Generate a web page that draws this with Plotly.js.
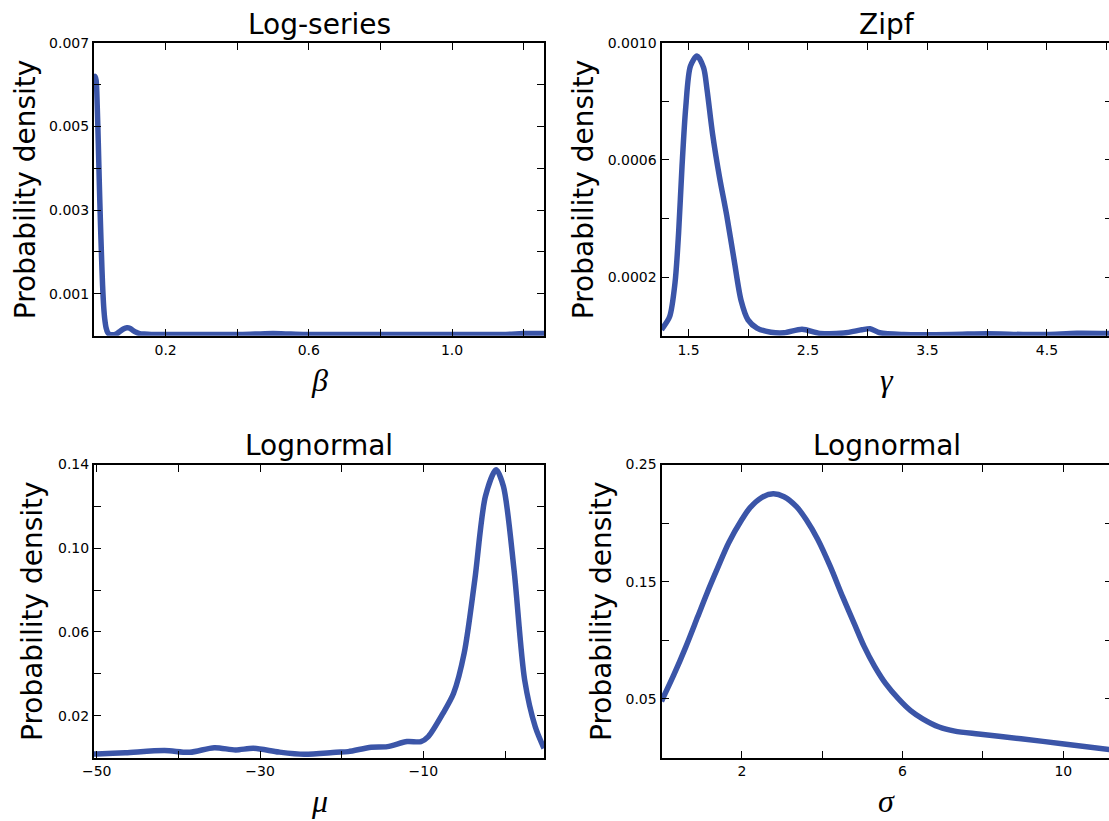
<!DOCTYPE html>
<html>
<head>
<meta charset="utf-8">
<script src="https://cdn.plot.ly/plotly-3.0.1.min.js"></script>
<style>
html,body{margin:0;padding:0;overflow:hidden;background:#fff;}
#chart{width:1112px;height:821px;}
</style>
</head>
<body>
<div id="chart"></div>
<script>
// ---------- data ----------
const panelTitles = ["Log-series", "Zipf", "Lognormal", "Lognormal"];
const xLabels = ["β", "γ", "μ", "σ"];
const yLabel = "Probability density";

const betaX = [0.000,0.003,0.006,0.009,0.012,0.015,0.018,0.021,0.024,0.027,0.030,0.034,0.038,0.044,0.052,0.062,0.072,0.082,0.092,0.100,0.108,0.118,0.128,0.140,0.160,0.200,0.300,0.400,0.450,0.500,0.550,0.600,0.800,1.000,1.150,1.200,1.257];
const betaY = [0.00600,0.00620,0.00610,0.00550,0.00460,0.00360,0.00270,0.00190,0.00120,0.00070,0.00040,0.00018,0.00008,0.00003,0.00002,0.00004,0.00010,0.00016,0.00019,0.00018,0.00013,0.00008,0.00005,0.00004,0.00003,0.00003,0.00003,0.00003,0.00004,0.00005,0.00004,0.00003,0.00003,0.00003,0.00003,0.00005,0.00005];

const gammaX = [1.274,1.282,1.342,1.387,1.417,1.446,1.477,1.516,1.571,1.626,1.655,1.701,1.760,1.820,1.881,1.940,1.998,2.073,2.190,2.300,2.450,2.600,2.800,2.950,3.020,3.100,3.300,3.700,4.000,4.300,4.500,4.750,5.040];
const gammaY = [0.000020,0.000025,0.000065,0.000180,0.000350,0.000580,0.000780,0.000920,0.000955,0.000915,0.000840,0.000690,0.000540,0.000410,0.000260,0.000120,0.000054,0.000026,0.000012,0.000010,0.000022,0.000008,0.000009,0.000020,0.000024,0.000010,0.000004,0.000004,0.000007,0.000004,0.000004,0.000008,0.000007];

const muX = [-50.33,-50.0,-46.5,-41.7,-38.6,-35.6,-33.0,-30.8,-27.7,-24.6,-20.7,-19.2,-16.4,-14.4,-12.0,-10.3,-9.4,-7.6,-6.3,-5.0,-3.7,-2.4,-1.1,-0.2,1.1,2.4,3.7,4.77];
const muY = [0.0017,0.0017,0.0023,0.0033,0.0025,0.0047,0.0036,0.0044,0.0026,0.0015,0.0025,0.0028,0.0049,0.0052,0.0076,0.0076,0.0100,0.0211,0.0307,0.0499,0.0850,0.1248,0.1375,0.1296,0.0897,0.0371,0.0147,0.0044];

const sigmaX = [0.0,0.3,0.6,0.9,1.13,1.4,1.67,2.0,2.2,2.5,2.78,3.05,3.36,3.6,3.89,4.2,4.51,4.8,5.04,5.3,5.58,5.9,6.2,6.5,6.91,7.3,7.89,8.95,10.02,11.2];
const sigmaY = [0.048,0.070,0.094,0.120,0.140,0.162,0.183,0.203,0.213,0.222,0.225,0.2225,0.214,0.203,0.186,0.163,0.137,0.114,0.095,0.078,0.063,0.050,0.040,0.033,0.026,0.0225,0.0200,0.0160,0.0115,0.0065];

const betaTicks = [0.2,0.4,0.6,0.8,1.0,1.2];
const betaTickText = ["0.2","","0.6","","1.0",""];
const betaDensTicks = [0.001,0.002,0.003,0.004,0.005,0.006,0.007];
const betaDensText = ["0.001","","0.003","","0.005","","0.007"];

const gammaTicks = [1.5,2.0,2.5,3.0,3.5,4.0,4.5,5.0];
const gammaTickText = ["1.5","","2.5","","3.5","","4.5",""];
const gammaDensTicks = [0.0002,0.0004,0.0006,0.0008,0.0010];
const gammaDensText = ["0.0002","","0.0006","","0.0010"];

const muTicks = [-50,-40,-30,-20,-10,0];
const muTickText = ["\u221250","","\u221230","","\u221210",""];
const muDensTicks = [0.02,0.04,0.06,0.08,0.10,0.12,0.14];
const muDensText = ["0.02","","0.06","","0.10","","0.14"];

const sigmaTicks = [2,4,6,8,10];
const sigmaTickText = ["2","","6","","10"];
const sigmaDensTicks = [0.05,0.10,0.15,0.20,0.25];
const sigmaDensText = ["0.05","","0.15","","0.25"];

// ---------- style ----------
const W = 1112, H = 821;
const lineColor = "#3b55a8";
const px = v => v / W;
const py = v => 1 - v / H;

const traceStyle = {mode: "lines", line: {color: lineColor, width: 5.5, shape: "spline", smoothing: 0.8}, hoverinfo: "skip", showlegend: false};
const data = [
  Object.assign({x: betaX, y: betaY, xaxis: "x", yaxis: "y"}, traceStyle),
  Object.assign({x: gammaX, y: gammaY, xaxis: "x2", yaxis: "y2"}, traceStyle),
  Object.assign({x: muX, y: muY, xaxis: "x3", yaxis: "y3"}, traceStyle),
  Object.assign({x: sigmaX, y: sigmaY, xaxis: "x4", yaxis: "y4"}, traceStyle)
];

const tickFont = {family: "DejaVu Sans", size: 14, color: "#000"};
function ax(domain, range, vals, text, anchor) {
  return {domain: domain, range: range, anchor: anchor, tickmode: "array", tickvals: vals, ticktext: text,
    ticks: "inside", ticklen: 7, tickwidth: 1, tickcolor: "#000", showline: true, linecolor: "#000", linewidth: 2,
    mirror: "ticks", showgrid: false, zeroline: false, tickfont: tickFont, fixedrange: true};
}

const L = [94, 544], R = [661.5, 1111.5];
const T = [42.7, 335.7], B = [464.5, 757.5];
const xd1 = [px(L[0]), px(L[1])], xd2 = [px(R[0]), px(R[1])];
const yd1 = [py(T[1]), py(T[0])], yd2 = [py(B[1]), py(B[0])];

const layout = {
  width: W, height: H, margin: {l: 0, r: 0, t: 0, b: 0}, paper_bgcolor: "#fff", plot_bgcolor: "#fff",
  xaxis: ax(xd1, [0, 1.257], betaTicks, betaTickText, "y"),
  yaxis: ax(yd1, [0, 0.007], betaDensTicks, betaDensText, "x"),
  xaxis2: ax(xd2, [1.274, 5.04], gammaTicks, gammaTickText, "y2"),
  yaxis2: ax(yd1, [0, 0.001], gammaDensTicks, gammaDensText, "x2"),
  xaxis3: ax(xd1, [-50.33, 4.77], muTicks, muTickText, "y3"),
  yaxis3: ax(yd2, [0, 0.14], muDensTicks, muDensText, "x3"),
  xaxis4: ax(xd2, [0, 11.2], sigmaTicks, sigmaTickText, "y4"),
  yaxis4: ax(yd2, [0, 0.25], sigmaDensTicks, sigmaDensText, "x4"),
  annotations: []
};

const titleFont = {family: "DejaVu Sans", size: 28, color: "#000"};
const yTitleFont = {family: "DejaVu Sans", size: 28, color: "#000"};
const greekFont = {family: "Liberation Serif", size: 32, color: "#000"};
const cx = [(L[0] + L[1]) / 2, (R[0] + R[1]) / 2];
const titleY = [25, 446];
const xLabY = [380, 801];
const yLabX = [[25, 583], [32, 601]];
const midY = [(T[0] + T[1]) / 2, (B[0] + B[1]) / 2];
for (let i = 0; i < 4; i++) {
  const col = i % 2, row = Math.floor(i / 2);
  layout.annotations.push({text: panelTitles[i], xref: "paper", yref: "paper", x: px(cx[col]), y: py(titleY[row]),
    xanchor: "center", yanchor: "middle", showarrow: false, font: titleFont});
  layout.annotations.push({text: "<i>" + xLabels[i] + "</i>", xref: "paper", yref: "paper", x: px(cx[col]), y: py(xLabY[row]),
    xanchor: "center", yanchor: "middle", showarrow: false, font: greekFont});
  layout.annotations.push({text: yLabel, xref: "paper", yref: "paper", x: px(yLabX[row][col]), y: py(midY[row]),
    xanchor: "center", yanchor: "middle", textangle: -90, showarrow: false, font: yTitleFont});
}

Plotly.newPlot("chart", data, layout, {staticPlot: true, displayModeBar: false});
</script>
</body>
</html>
